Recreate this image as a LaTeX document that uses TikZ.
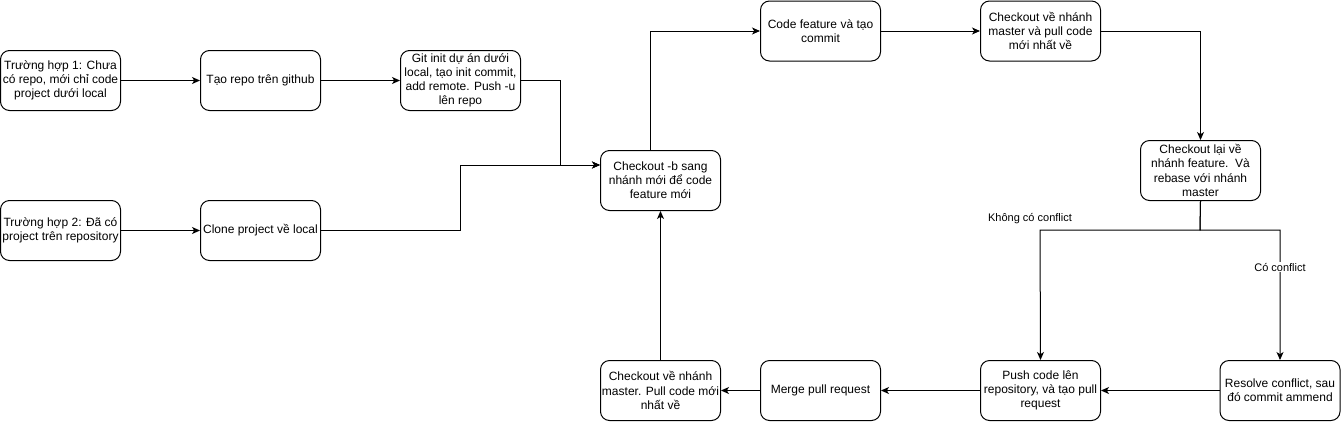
\documentclass[tikz,border=0pt]{standalone}
\usepackage{fontspec}
\setmainfont{Liberation Sans}
\usetikzlibrary{arrows.meta}
\tikzset{
  box/.style={draw=black, line width=1pt, rounded corners=9pt, minimum width=120pt, minimum height=60pt,
    inner sep=0pt, align=center, anchor=north west, font=\fontsize{12}{14.2}\selectfont},
  conn/.style={draw=black, line width=1pt, -{Stealth[length=8pt,width=7pt,inset=2.2pt]}},
  plain/.style={draw=black, line width=1pt},
  lab/.style={font=\fontsize{11}{13}\selectfont, inner sep=1pt}
}
\begin{document}
\begin{tikzpicture}[x=1pt,y=-1pt]
\useasboundingbox (0,0) rectangle (1341,421);
\node[box] (A) at (0,50) {Trường hợp 1: Chưa\\có repo, mới chỉ code\\project dưới local};
\node[box] (B) at (200,50) {Tạo repo trên github};
\node[box] (C) at (400,50) {Git init dự án dưới\\local, tạo init commit,\\add remote. Push -u\\lên repo};
\node[box] (D) at (0,200) {Trường hợp 2: Đã có\\project trên repository};
\node[box] (E) at (200,200) {Clone project về local};
\node[box] (F) at (600,150) {Checkout -b sang\\nhánh mới để code\\feature mới};
\node[box] (G) at (760,0.5) {Code feature và tạo\\commit};
\node[box] (H) at (980,0.5) {Checkout về nhánh\\master và pull code\\mới nhất về};
\node[box] (I) at (1140,140) {Checkout lại về\\nhánh feature.\ \ Và\\rebase với nhánh\\master};
\node[box] (J) at (980,360) {Push code lên\\repository, và tạo pull\\request};
\node[box] (K) at (1219.5,360) {Resolve conflict, sau\\đó commit ammend};
\node[box] (L) at (600,360) {Checkout về nhánh\\master. Pull code mới\\nhất về};
\node[box] (M) at (760,360) {Merge pull request};

\coordinate (c1) at (560,165);
\coordinate (e1) at (460,165);
\coordinate (f1) at (650,30);
\coordinate (s) at (1200,230);
\coordinate (k1) at (1280,230);
\coordinate (j1) at (1040,230);

\draw[conn] (A.east) -- (B.west);
\draw[conn] (B.east) -- (C.west);
\draw[conn] (D.east) -- (E.west);
\draw[conn] (C.east) -| (c1) -- (F.west |- c1);
\draw[conn] (E.east) -| (e1) -- (F.west |- e1);
\draw[conn] (F.north -| f1) |- (G.west);
\draw[conn] (G.east) -- (H.west);
\draw[conn] (H.east) -| (I.north);
\draw[conn] (I.south) -- (s) -- (j1) -- (J.north);
\draw[conn] (I.south) -- (s) -- (k1) -- node[lab, fill=white, pos=0.285] (lk) {Có conflict} (K.north);
\node[lab] (lj) at (1030,219) {Không có conflict};
\draw[conn] (K.west) -- (J.east);
\draw[conn] (J.west) -- (M.east);
\draw[conn] (M.west) -- (L.east);
\draw[conn] (L.north) -- (F.south);
\end{tikzpicture}
\end{document}
